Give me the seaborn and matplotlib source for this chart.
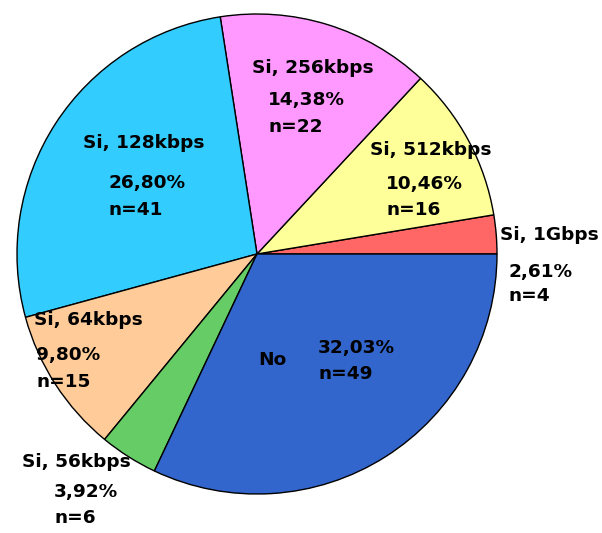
import matplotlib
matplotlib.use("Agg")
import matplotlib.pyplot as plt
import seaborn as sns

# Connection types, shares and counts (counter-clockwise from 3 o'clock)
categories = ["Si, 1Gbps", "Si, 512kbps", "Si, 256kbps", "Si, 128kbps",
              "Si, 64kbps", "Si, 56kbps", "No"]
percents = [2.61, 10.46, 14.38, 26.80, 9.80, 3.92, 32.03]
counts = [4, 16, 22, 41, 15, 6, 49]
colors = ["#FF6666", "#FFFF99", "#FF99FF", "#33CCFF",
          "#FFCC99", "#66CC66", "#3366CC"]

sns.set_theme(style="white")
plt.rcParams["font.family"] = ["DejaVu Sans"]

W, H = 602, 533
fig = plt.figure(figsize=(W / 100, H / 100), dpi=100)
ax = fig.add_axes([0, 0, 1, 1])

cx, cy, r = 257, H - 254, 240
palette = sns.color_palette(colors)
ax.pie(percents, colors=palette, startangle=0, counterclock=True,
       center=(cx, cy), radius=r,
       wedgeprops=dict(edgecolor="black", linewidth=1.0))

ax.set_xlim(0, W)
ax.set_ylim(0, H)
ax.set_aspect("equal")
ax.axis("off")

# Label anchors (left edge, line centres) in pixel layout, top-down
label_pos = {
    "Si, 1Gbps":   [(500, 235), (508, 272), (508, 296)],
    "Si, 512kbps": [(370, 150), (386, 184), (386, 210)],
    "Si, 256kbps": [(252, 68), (268, 100), (268, 127)],
    "Si, 128kbps": [(83, 143), (108, 183), (108, 210)],
    "Si, 64kbps":  [(34, 320), (36, 355), (36, 382)],
    "Si, 56kbps":  [(22, 462), (54, 492), (54, 518)],
}
fs = 13.3
for cat, pct, n in zip(categories, percents, counts):
    pct_txt = f"{pct:.2f}%".replace(".", ",")
    if cat == "No":
        ax.text(258, H - 360, cat, ha="left", va="center",
                fontsize=fs, fontweight="bold", color="black")
        ax.text(318, H - 348, pct_txt, ha="left", va="center",
                fontsize=fs, fontweight="bold", color="black")
        ax.text(318, H - 374, f"n={n}", ha="left", va="center",
                fontsize=fs, fontweight="bold", color="black")
        continue
    (x0, y0), (x1, y1), (x2, y2) = label_pos[cat]
    ax.text(x0, H - y0, cat, ha="left", va="center",
            fontsize=fs, fontweight="bold", color="black")
    ax.text(x1, H - y1, pct_txt, ha="left", va="center",
            fontsize=fs, fontweight="bold", color="black")
    ax.text(x2, H - y2, f"n={n}", ha="left", va="center",
            fontsize=fs, fontweight="bold", color="black")

fig.savefig("out.png", dpi=100, facecolor="white")
